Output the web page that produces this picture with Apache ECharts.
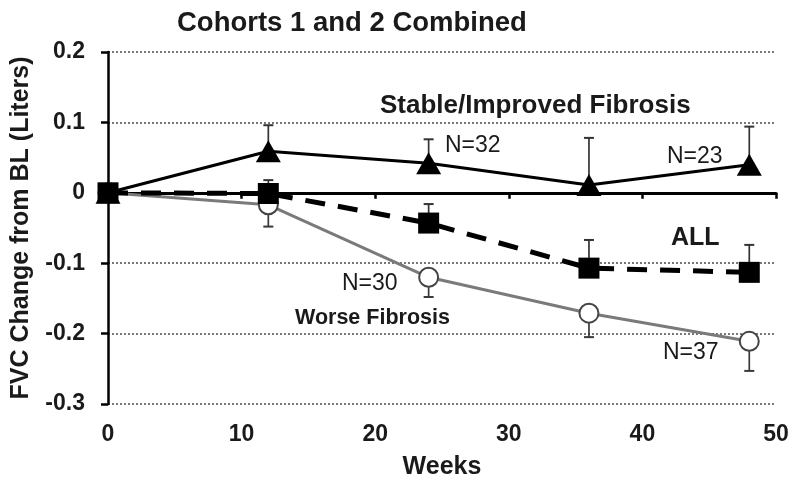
<!DOCTYPE html>
<html><head><meta charset="utf-8">
<script src="https://cdn.jsdelivr.net/npm/echarts@6/dist/echarts.min.js"></script>
<style>html,body{margin:0;background:#fff}#c{width:795px;height:480px}</style>
</head><body><div id="c"></div>
<script>
const weeks = [0, 12, 24, 36, 48];
const stable = [0, 0.059, 0.042, 0.011, 0.040];
const stableUpper = [null, 0.096, 0.076, 0.078, 0.094];
const allPts = [0, -0.001, -0.043, -0.107, -0.113];
const allUpper = [null, 0.018, -0.016, -0.067, -0.074];
const worse = [0, -0.017, -0.120, -0.171, -0.211];
const worseLower = [null, -0.048, -0.148, -0.205, -0.253];
const xRange = [0, 50];
const yRange = [-0.3, 0.2];

const font = "'Liberation Sans', Arial, sans-serif";

function pairs(vals) { return weeks.map((w, i) => [w, vals[i]]); }
function errData(vals, ends) {
  const out = [];
  weeks.forEach((w, i) => { if (ends[i] != null) out.push([w, vals[i], ends[i]]); });
  return out;
}
function errSeries(vals, ends, color) {
  return {
    type: 'custom', xAxisIndex: 0, z: 3,
    data: errData(vals, ends),
    renderItem: function (params, api) {
      const p0 = api.coord([api.value(0), api.value(1)]);
      const p1 = api.coord([api.value(0), api.value(2)]);
      const cap = 5;
      return { type: 'group', children: [
        { type: 'line', shape: { x1: p0[0], y1: p0[1], x2: p1[0], y2: p1[1] }, style: { stroke: color, lineWidth: 1.7 } },
        { type: 'line', shape: { x1: p1[0] - cap, y1: p1[1], x2: p1[0] + cap, y2: p1[1] }, style: { stroke: color, lineWidth: 2 } }
      ]};
    }
  };
}
function label(text, x, y, size, bold) {
  return { type: 'text', x: x, y: y, z: 10,
    style: { text: text, font: (bold ? 'bold ' : '') + size + 'px ' + font, fill: '#1a1a1a',
      verticalAlign: 'middle', textVerticalAlign: 'middle' } };
}

const chart = echarts.init(document.getElementById('c'));
const fmt = v => { const r = Math.round(v * 10) / 10; return r === 0 ? '0' : r.toFixed(1); };

chart.setOption({
  animation: false,
  backgroundColor: '#fff',
  grid: { left: 108, right: 19, top: 52, bottom: 76, containLabel: false, outerBoundsMode: 'none' },
  xAxis: [
    { type: 'value', min: xRange[0], max: xRange[1], interval: 10,
      axisLine: { show: false, onZero: false }, axisTick: { show: false }, splitLine: { show: false },
      axisLabel: { margin: 19, fontFamily: font, fontSize: 23, fontWeight: 'bold', color: '#1a1a1a' },
      name: 'Weeks', nameLocation: 'middle', nameGap: 51,
      nameTextStyle: { fontFamily: font, fontSize: 25, fontWeight: 'bold', color: '#1a1a1a' } },
    { type: 'value', min: xRange[0], max: xRange[1], interval: 10, position: 'bottom',
      axisLine: { show: true, onZero: true, lineStyle: { color: '#000', width: 3 } },
      axisTick: { show: true, inside: false, length: 6, lineStyle: { color: '#000', width: 2.5 } },
      axisLabel: { show: false }, splitLine: { show: false } }
  ],
  yAxis: { type: 'value', min: yRange[0], max: yRange[1], interval: 0.1,
    axisLine: { show: true, onZero: false, lineStyle: { color: '#000', width: 2.5 } },
    axisTick: { show: true, length: 7, lineStyle: { color: '#000', width: 2.5 } },
    axisLabel: { formatter: fmt, margin: 23, fontFamily: font, fontSize: 23, fontWeight: 'bold', color: '#1a1a1a' },
    splitLine: { show: true, lineStyle: { color: '#777', width: 2, type: [2, 2] } },
    name: 'FVC Change from BL (Liters)', nameLocation: 'middle', nameGap: 74,
    nameTextStyle: { fontFamily: font, fontSize: 25, fontWeight: 'bold', color: '#1a1a1a' } },
  series: [
    errSeries(worse, worseLower, '#3a3a3a'),
    errSeries(allPts, allUpper, '#333'),
    errSeries(stable, stableUpper, '#333'),
    { type: 'line', name: 'Worse Fibrosis', xAxisIndex: 0, data: pairs(worse), z: 4,
      lineStyle: { color: '#7a7a7a', width: 3 },
      symbol: 'circle', symbolSize: 19,
      itemStyle: { color: '#fff', borderColor: '#444', borderWidth: 2 } },
    { type: 'line', name: 'ALL', xAxisIndex: 0, data: pairs(allPts), z: 5,
      lineStyle: { color: '#000', width: 5, type: [20, 13] },
      symbol: 'rect', symbolSize: 21,
      itemStyle: { color: '#000' } },
    { type: 'line', name: 'Stable/Improved Fibrosis', xAxisIndex: 0, data: pairs(stable), z: 6,
      lineStyle: { color: '#000', width: 3 },
      symbol: 'triangle', symbolSize: [25, 22],
      itemStyle: { color: '#000' } }
  ],
  graphic: [
    label('Cohorts 1 and 2 Combined', 177, 23, 27.5, true),
    label('Stable/Improved Fibrosis', 380, 106, 26, true),
    label('N=32', 445, 146, 23, false),
    label('N=23', 667, 157, 23, false),
    label('ALL', 671, 238, 25, true),
    label('N=30', 342, 284, 23, false),
    label('Worse Fibrosis', 295, 318, 21.5, true),
    label('N=37', 663, 353, 23, false)
  ]
});
</script>
</body></html>
